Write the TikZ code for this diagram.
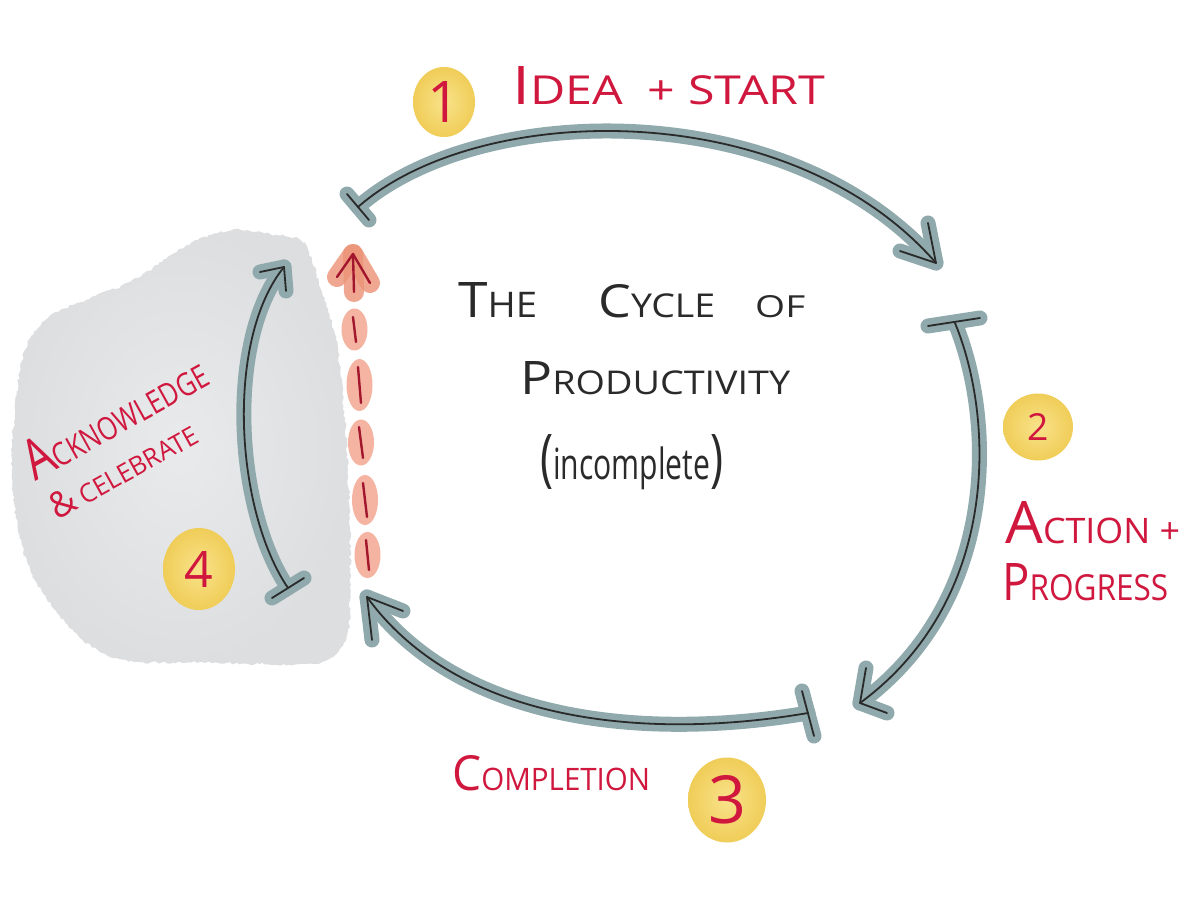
\documentclass[tikz,border=0pt]{standalone}
\usepackage{fontspec}
\setmainfont{Open Sans}
\usepackage{graphicx}
\usetikzlibrary{decorations.pathmorphing,shapes.geometric}
\definecolor{hred}{HTML}{D0183F}
\definecolor{hink}{HTML}{2A2A2A}
\definecolor{wash}{HTML}{8FA9AC}
\definecolor{cloudin}{HTML}{E9EAEB}
\definecolor{cloudout}{HTML}{DDDEE0}
\definecolor{yelin}{HTML}{F8E28A}
\definecolor{yelout}{HTML}{F0CD58}
\definecolor{salm}{HTML}{F4B4A1}
\definecolor{salmd}{HTML}{EC9276}
\definecolor{dred}{HTML}{A3172E}
\newcommand\hw[4]{{\fontsize{#1}{#1}\selectfont #3}{\fontsize{#2}{#2}\selectfont #4}}
\tikzset{
  washline/.style={wash, line width=15pt, line cap=round, line join=round},
  inkline/.style={hink, line width=1.8pt, line cap=round, line join=round},
  salmwash/.style={fill=salm},
  salmhead/.style={salmd, line width=20pt, line cap=round, line join=round, opacity=0.8},
  redink/.style={dred, line width=2.4pt, line cap=round, line join=round},
  redtext/.style={text=hred, inner sep=0pt, anchor=base west},
  blacktext/.style={text=hink, inner sep=0pt, anchor=base west},
  badge/.style={ellipse, inner sep=0pt, shade, inner color=yelin, outer color=yelout, text=hred},
}
\begin{document}
\begin{tikzpicture}[x=1pt,y=-1pt]
\useasboundingbox (0,0) rectangle (1200,909);
\fill[white] (0,0) rectangle (1200,909);
\pgfmathsetseed{3}
% gray cloud
\path[shade, inner color=cloudin, outer color=cloudout, decorate,
  decoration={random steps, segment length=3pt, amplitude=1.3pt}]
  plot[smooth cycle, tension=0.6] coordinates {
  (187,245) (232,230) (270,234) (300,240) (312,260) (322,292) (336,340)
  (343,400) (348,470) (350,540) (350,600) (346,640) (322,662) (260,664)
  (200,662) (140,662) (100,652) (65,622) (35,580) (18,530) (12,470)
  (15,410) (25,350) (48,318) (90,298) (130,282) (162,262)};
% yellow badges
\node[badge, minimum width=62pt, minimum height=70pt] (b1) at (444,102) {\resizebox{!}{41pt}{1}};
\node[badge, minimum width=70pt, minimum height=67pt] (b2) at (1038,427) {\resizebox{!}{27pt}{2}};
\node[badge, minimum width=78pt, minimum height=85pt] (b3) at (727,800) {\resizebox{!}{48pt}{3}};
\node[badge, minimum width=72pt, minimum height=82pt] (b4) at (199,569) {\resizebox{!}{36pt}{4}};
% arrow coordinates
\coordinate (s1) at (358,207); \coordinate (t1) at (936,263);
\coordinate (s1a) at (347,194); \coordinate (s1b) at (369,220);
\coordinate (h1a) at (928,223); \coordinate (h1b) at (900,251);
\coordinate (s2) at (955,323); \coordinate (t2) at (860,703);
\coordinate (s2a) at (928,326); \coordinate (s2b) at (980,318);
\coordinate (h2a) at (866,668); \coordinate (h2b) at (887,713);
\coordinate (s3) at (808,713); \coordinate (t3) at (367,597);
\coordinate (s3a) at (802,691); \coordinate (s3b) at (814,736);
\coordinate (h3a) at (372,640); \coordinate (h3b) at (403,611);
\coordinate (s4) at (288,588); \coordinate (t4) at (284,267);
\coordinate (s4a) at (272,598); \coordinate (s4b) at (304,578);
\coordinate (h4a) at (260,272); \coordinate (h4b) at (286,291);
% washes
\draw[washline] (s1) .. controls (480,100) and (790,95) .. (t1);
\draw[washline] (s1a) -- (s1b);
\draw[washline] (h1a) -- (t1) -- (h1b);
\draw[washline] (s2) .. controls (995,420) and (1000,600) .. (t2);
\draw[washline] (s2a) -- (s2b);
\draw[washline] (h2a) -- (t2) -- (h2b);
\draw[washline] (s3) .. controls (650,740) and (460,725) .. (t3);
\draw[washline] (s3a) -- (s3b);
\draw[washline] (h3a) -- (t3) -- (h3b);
\draw[washline] (s4) .. controls (235,510) and (225,340) .. (t4);
\draw[washline] (s4a) -- (s4b);
\draw[washline] (h4a) -- (t4) -- (h4b);
% ink lines
\draw[inkline] (s1) .. controls (480,100) and (790,95) .. (t1);
\draw[inkline] (s1a) -- (s1b);
\draw[inkline] (h1a) -- (t1) -- (h1b);
\draw[inkline] (s2) .. controls (995,420) and (1000,600) .. (t2);
\draw[inkline] (s2a) -- (s2b);
\draw[inkline] (h2a) -- (t2) -- (h2b);
\draw[inkline] (s3) .. controls (650,740) and (460,725) .. (t3);
\draw[inkline] (s3a) -- (s3b);
\draw[inkline] (h3a) -- (t3) -- (h3b);
\draw[inkline] (s4) .. controls (235,510) and (225,340) .. (t4);
\draw[inkline] (s4a) -- (s4b);
\draw[inkline] (h4a) -- (t4) -- (h4b);
% red dashed arrow
\coordinate (rt) at (353,254); \coordinate (rs) at (354,292);
\coordinate (rl) at (337,277); \coordinate (rr) at (370,283);
\coordinate (d1a) at (353,317); \coordinate (d1b) at (356,342);
\coordinate (d2a) at (358,367); \coordinate (d2b) at (361,403);
\coordinate (d3a) at (359,427); \coordinate (d3b) at (363,458);
\coordinate (d4a) at (363,483); \coordinate (d4b) at (367,517);
\coordinate (d5a) at (366,540); \coordinate (d5b) at (369,570);
\path[salmwash] (354.5,329.5) ellipse [x radius=13, y radius=21];
\path[salmwash] (359.5,385) ellipse [x radius=13, y radius=26];
\path[salmwash] (361,442.5) ellipse [x radius=13, y radius=23];
\path[salmwash] (365,500) ellipse [x radius=13, y radius=25];
\path[salmwash] (367.5,555) ellipse [x radius=13, y radius=23];
\draw[salmhead] (rl) -- (rt) -- (rr);
\draw[salmhead] (rt) -- (rs);
\foreach \d in {1,...,5} {\draw[redink] (d\d a) -- (d\d b);}
\draw[redink] (rl) -- (rt) -- (rr);
\draw[redink] (rt) -- (rs);
% texts
\node[redtext] (idea) at (512,105) {\resizebox{313pt}{38pt}{\hw{56pt}{42pt}{I}{DEA\ \ +\ START}}};
\node[blacktext] (the) at (458,318) {\resizebox{79pt}{35pt}{\hw{50pt}{36pt}{T}{HE}}};
\node[blacktext] (cycle) at (598,318) {\resizebox{117pt}{33pt}{\hw{50pt}{36pt}{C}{YCLE}}};
\node[blacktext] (of) at (755,318) {\resizebox{50pt}{22pt}{\fontsize{36pt}{36pt}\selectfont OF}};
\node[blacktext] (prod) at (520,395) {\resizebox{270pt}{33pt}{\hw{48pt}{34pt}{P}{RODUCTIVITY}}};
\node[blacktext] (inc) at (540,479) {\scalebox{0.7}[1]{{\fontsize{63pt}{63pt}\selectfont(}{\fontsize{43pt}{43pt}\selectfont incomplete}{\fontsize{63pt}{63pt}\selectfont)}}};
\node[redtext] (act) at (1005,543) {\resizebox{175pt}{42pt}{\hw{60pt}{36pt}{A}{CTION +}}};
\node[redtext] (prog) at (1002,600) {\resizebox{166pt}{37pt}{\hw{52pt}{36pt}{P}{ROGRESS}}};
\node[redtext] (comp) at (452,790) {\resizebox{198pt}{35pt}{\hw{50pt}{32pt}{C}{OMPLETION}}};
\node[redtext, rotate=29] (ack) at (35,482) {\resizebox{202pt}{40pt}{\hw{56pt}{32pt}{A}{CKNOWLEDGE}}};
\node[redtext, rotate=29] (cel) at (57,521) {\resizebox{164pt}{26pt}{\hw{36pt}{26pt}{\&}{ CELEBRATE}}};
\end{tikzpicture}
\end{document}
